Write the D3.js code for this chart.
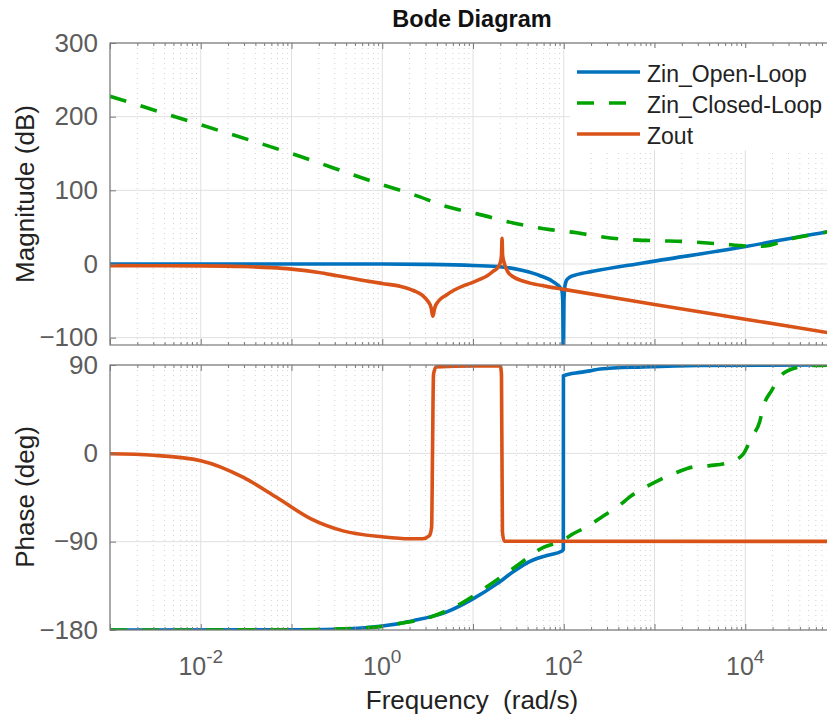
<!DOCTYPE html>
<html>
<head>
<meta charset="utf-8">
<script src="https://cdnjs.cloudflare.com/ajax/libs/d3/7.8.5/d3.min.js"></script>
<style>
body { margin: 0; background: #fff; }
svg { font-family: "Liberation Sans", Arial, Helvetica, sans-serif; }
</style>
</head>
<body>
<svg id="chart" width="827" height="717"></svg>
<script>
// every series is a list of [frequency (rad/s), value]
const zinOpenMag = [
    [0.001, 0], [1, 0], [3, -0.5], [10, -2], [20.9, -4], [35.5, -9], [55, -16], [76, -24],
    [94.8, -35], [97.5, -50], [99, -150], [100.5, -50], [103, -30], [107.5, -22], [116, -18],
    [139, -14.5], [210, -10], [746, 1.4], [9400, 23], [79400, 43.5], [100000, 45.5]
];
const zinClosedMag = [
    [0.001, 227.7], [0.01, 189], [0.1, 150], [1, 107.7], [2.24, 94], [5.1, 78], [12, 67],
    [27.7, 55.7], [70.7, 46.6], [145, 42], [162, 41], [417, 34], [955, 31.7], [2340, 30.3],
    [5620, 27], [10000, 24.5], [15000, 24], [33000, 34.5], [79400, 43.5], [100000, 46]
];
const zoutMag = [
    [0.001, -2.3], [0.003, -2.4], [0.01, -2.6], [0.03, -3.5], [0.06, -5], [0.1, -7], [0.2, -11.5],
    [0.32, -16], [0.6, -22], [1, -26.5], [1.6, -30.5], [2.2, -36], [2.8, -43], [3.2, -51],
    [3.45, -59], [3.61, -71], [3.8, -59], [4.2, -50], [5.1, -42], [6.3, -35], [7.7, -30],
    [9.5, -26], [11.8, -21], [14.5, -15.5], [16.6, -10], [18.7, -5], [20, 2], [20.6, 12],
    [20.9, 35], [21.2, 12], [22, 2], [24, -10], [28, -17.7], [34, -22.5], [42.5, -26],
    [64.5, -30.4], [100, -34.5], [1000, -55], [10000, -75], [100000, -95]
];
const zinOpenPhase = [
    [0.001, -180], [0.1, -179.8], [0.3, -179.2], [1, -176], [2.2, -170.5], [5.15, -161.5],
    [10.1, -148], [18.3, -133], [27.9, -120.5], [42.5, -110], [65, -104], [94.8, -99.8],
    [98.9, -98], [99.2, 79], [151, 82.5], [195, 84], [251, 86], [750, 88], [3000, 89.5], [100000, 90]
];
const zinClosedPhase = [
    [0.001, -180], [0.1, -179.8], [0.3, -179], [1, -176.5], [1.43, -174], [3.37, -167],
    [7.7, -152], [15.8, -133], [32.1, -113], [59, -96], [84, -91], [100, -88], [127, -82],
    [186, -74], [270, -64], [386, -55], [560, -43], [780, -35], [1200, -26], [1750, -19.5],
    [2630, -14], [4070, -12.5], [6760, -9], [9440, -1], [11700, 16], [14400, 32], [16000, 49],
    [19500, 64], [24600, 79], [35500, 87], [56200, 89.5], [100000, 90]
];
const zoutPhase = [
    [0.001, -0.5], [0.003, -2], [0.01, -7.5], [0.0295, -24.5], [0.069, -45], [0.162, -66.5],
    [0.37, -79], [1, -85], [2, -87], [2.8, -87], [3.3, -84], [3.5, -75], [3.58, 0], [3.67, 80],
    [3.9, 88], [10, 89], [20, 89], [20.6, 80], [21.1, -80], [22.1, -89.5], [100000, -89.7]
];

const seriesNames = ['Zin_Open-Loop', 'Zin_Closed-Loop', 'Zout'];
const seriesColors = ['#0072BD', '#00A300', '#D95319'];
const magTicks = [-100, 0, 100, 200, 300];
const phaseTicks = [-180, -90, 0, 90];
const freqLabelExps = [-2, 0, 2, 4];

const svg = d3.select('#chart');
const left = 110, right = 836;

const x = d3.scaleLog().domain([1e-3, 1e5]).range([left, right]);
const yMag = d3.scaleLinear().domain([-110, 300]).range([345, 43]);
const yPhase = d3.scaleLinear().domain([-180, 90]).range([630, 365]);

const majorFreqs = d3.range(-3, 6).map(e => Math.pow(10, e));
const minorFreqs = [];
d3.range(-3, 5).forEach(e => {
    d3.range(2, 10).forEach(k => minorFreqs.push(k * Math.pow(10, e)));
});

function drawPanel(y, yTicks, curves, id) {
    const top = y.range()[1], bottom = y.range()[0];
    const g = svg.append('g');

    // grid
    g.selectAll('.minor').data(minorFreqs).enter().append('line')
        .attr('x1', d => x(d)).attr('x2', d => x(d))
        .attr('y1', top).attr('y2', bottom)
        .attr('stroke', '#d2d2d2').attr('stroke-width', 1)
        .attr('stroke-dasharray', '1,4');
    g.selectAll('.vmajor').data(majorFreqs).enter().append('line')
        .attr('x1', d => x(d)).attr('x2', d => x(d))
        .attr('y1', top).attr('y2', bottom)
        .attr('stroke', '#e0e0e0').attr('stroke-width', 1);
    g.selectAll('.hmajor').data(yTicks).enter().append('line')
        .attr('x1', left).attr('x2', right)
        .attr('y1', d => y(d)).attr('y2', d => y(d))
        .attr('stroke', '#e0e0e0').attr('stroke-width', 1);

    svg.append('clipPath').attr('id', id)
        .append('rect').attr('x', left).attr('y', top)
        .attr('width', right - left).attr('height', bottom - top);

    const line = d3.line()
        .x(d => x(d[0]))
        .y(d => y(d[1]))
        .curve(d3.curveMonotoneX);

    curves.forEach((data, i) => {
        g.append('path')
            .datum(data)
            .attr('clip-path', `url(#${id})`)
            .attr('fill', 'none')
            .attr('stroke', seriesColors[i])
            .attr('stroke-width', 3.6)
            .attr('stroke-dasharray', i === 1 ? '17,15' : null)
            .attr('d', line);
    });

    // axes, ticks pointing inward
    const bottomAxis = d3.axisBottom(x).tickValues(majorFreqs).tickSizeInner(-6).tickSizeOuter(0).tickFormat('');
    const bottomMinor = d3.axisBottom(x).tickValues(minorFreqs).tickSizeInner(-3).tickSizeOuter(0).tickFormat('');
    const topAxis = d3.axisTop(x).tickValues(majorFreqs).tickSizeInner(-6).tickSizeOuter(0).tickFormat('');
    const topMinor = d3.axisTop(x).tickValues(minorFreqs).tickSizeInner(-3).tickSizeOuter(0).tickFormat('');
    [[bottomAxis, bottom], [bottomMinor, bottom], [topAxis, top], [topMinor, top]].forEach(([ax, ty]) => {
        const a = svg.append('g').attr('transform', `translate(0,${ty})`).call(ax);
        a.select('.domain').remove();
        a.selectAll('line').attr('stroke', '#7a7a7a');
    });

    const leftAxis = svg.append('g')
        .attr('transform', `translate(${left},0)`)
        .call(d3.axisLeft(y).tickValues(yTicks).tickSizeInner(-6).tickSizeOuter(0).tickPadding(12));
    leftAxis.select('.domain').remove();
    leftAxis.selectAll('line').attr('stroke', '#7a7a7a');
    leftAxis.selectAll('text')
        .attr('font-size', 26)
        .attr('font-family', '"Liberation Sans", Arial, sans-serif')
        .attr('fill', '#5c5c5c');

    svg.append('rect')
        .attr('x', left).attr('y', top)
        .attr('width', right - left).attr('height', bottom - top)
        .attr('fill', 'none').attr('stroke', '#7a7a7a').attr('stroke-width', 1.2);
}

drawPanel(yMag, magTicks, [zinOpenMag, zinClosedMag, zoutMag], 'clip-mag');

// legend sits over the magnitude grid
const legend = svg.append('g');
legend.append('rect')
    .attr('x', 570).attr('y', 48).attr('width', 270).attr('height', 102)
    .attr('fill', '#fff');
seriesNames.forEach((name, i) => {
    const ly = 72 + i * 31;
    legend.append('line')
        .attr('x1', 577).attr('x2', 640)
        .attr('y1', ly).attr('y2', ly)
        .attr('stroke', seriesColors[i])
        .attr('stroke-width', 3.6)
        .attr('stroke-dasharray', i === 1 ? '17,15' : null);
    legend.append('text')
        .attr('x', 647).attr('y', ly + 10)
        .attr('font-size', 23)
        .attr('fill', '#222')
        .text(name);
});

drawPanel(yPhase, phaseTicks, [zinOpenPhase, zinClosedPhase, zoutPhase], 'clip-phase');

// frequency labels as powers of ten
freqLabelExps.forEach(e => {
    const t = svg.append('text')
        .attr('x', x(Math.pow(10, e)))
        .attr('y', 675)
        .attr('text-anchor', 'middle')
        .attr('fill', '#5c5c5c');
    t.append('tspan').attr('font-size', 25).text('10');
    t.append('tspan').attr('font-size', 19).attr('dy', -12).text(e);
});

svg.append('text')
    .attr('x', 472).attr('y', 27)
    .attr('text-anchor', 'middle')
    .attr('font-size', 23.5)
    .attr('font-weight', 'bold')
    .attr('fill', '#111')
    .text('Bode Diagram');

svg.append('text')
    .attr('x', 472).attr('y', 709)
    .attr('text-anchor', 'middle')
    .attr('font-size', 26)
    .attr('fill', '#222')
    .style('white-space', 'pre')
    .text('Frequency  (rad/s)');

[['Magnitude (dB)', 194], ['Phase (deg)', 497]].forEach(([label, cy]) => {
    svg.append('text')
        .attr('transform', `translate(34,${cy}) rotate(-90)`)
        .attr('text-anchor', 'middle')
        .attr('font-size', 26)
        .attr('fill', '#222')
        .text(label);
});
</script>
</body>
</html>
